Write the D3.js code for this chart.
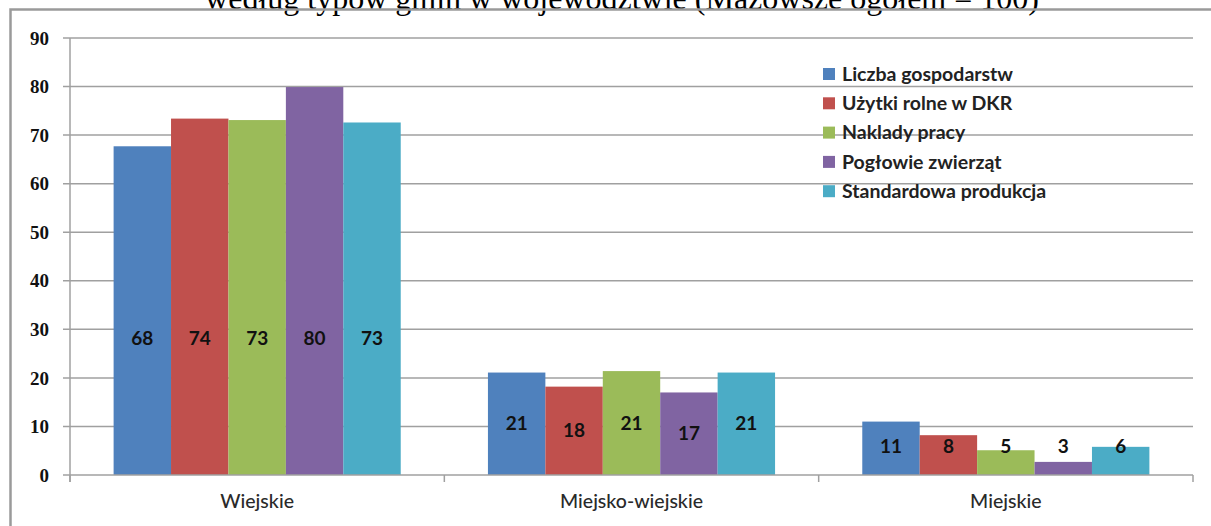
<!DOCTYPE html>
<html>
<head>
<meta charset="utf-8">
<script src="https://cdn.jsdelivr.net/npm/d3@7"></script>
<style>
  html, body { margin: 0; padding: 0; background: #fff; }
  svg { display: block; }
</style>
</head>
<body>
<svg id="chart" width="1211" height="526"></svg>
<script>
// ---- data ----
const categories = ["Wiejskie", "Miejsko-wiejskie", "Miejskie"];
const seriesNames = ["Liczba gospodarstw", "Użytki rolne w DKR", "Naklady pracy", "Pogłowie zwierząt", "Standardowa produkcja"];
const liczbaGospodarstw = [67.7, 21.1, 11.0];
const uzytkiRolne = [73.4, 18.2, 8.2];
const nakladyPracy = [73.1, 21.4, 5.1];
const poglowieZwierzat = [79.9, 17.0, 2.7];
const standardowaProdukcja = [72.6, 21.1, 5.8];
const valueLabels = [
  ["68", "74", "73", "80", "73"],
  ["21", "18", "21", "17", "21"],
  ["11", "8", "5", "3", "6"]
];
const yTicks = [0, 10, 20, 30, 40, 50, 60, 70, 80, 90];
const titleText = "według typów gmin w województwie (Mazowsze ogółem = 100)";

const seriesValues = [liczbaGospodarstw, uzytkiRolne, nakladyPracy, poglowieZwierzat, standardowaProdukcja];
const colors = ["#4F81BD", "#C0504D", "#9BBB59", "#8064A2", "#4BACC6"];

// ---- layout ----
const svg = d3.select("#chart");
const plotLeft = 70, plotRight = 1193, plotTop = 38, plotBottom = 475;

// frame + title
svg.append("text")
  .attr("x", 622).attr("y", 9)
  .attr("text-anchor", "middle")
  .attr("font-family", "Liberation Serif, Times New Roman, serif")
  .attr("font-size", 32)
  .attr("fill", "#000")
  .text(titleText);
svg.append("rect")
  .attr("x", 10.5).attr("y", 9.5)
  .attr("width", 1400).attr("height", 700)
  .attr("fill", "none").attr("stroke", "#9a9a9a").attr("stroke-width", 2.5);

const y = d3.scaleLinear().domain([0, 90]).range([plotBottom, plotTop]);
const x0 = d3.scaleBand().domain(categories).range([plotLeft, plotRight])
  .paddingInner(0.233).paddingOuter(0.1165);
const x1 = d3.scaleBand().domain(seriesNames).range([0, x0.bandwidth()]);
const sep = d3.scaleLinear().domain([0, categories.length]).range([plotLeft, plotRight]);

const gridColor = "#a0a0a0";

// gridlines
svg.append("g").selectAll("line").data(yTicks.filter(t => t > 0)).join("line")
  .attr("x1", plotLeft - 7).attr("x2", plotRight)
  .attr("y1", d => y(d)).attr("y2", d => y(d))
  .attr("stroke", gridColor).attr("stroke-width", 1.5);

// y axis line and ticks
svg.append("line").attr("x1", plotLeft).attr("x2", plotLeft).attr("y1", plotTop).attr("y2", plotBottom + 7)
  .attr("stroke", gridColor).attr("stroke-width", 1.5);
svg.append("line").attr("x1", plotLeft - 7).attr("x2", plotLeft).attr("y1", plotBottom).attr("y2", plotBottom)
  .attr("stroke", gridColor).attr("stroke-width", 1.5);
svg.append("g").selectAll("text").data(yTicks).join("text")
  .attr("x", 49).attr("y", d => y(d))
  .attr("dy", "0.35em")
  .attr("text-anchor", "end")
  .attr("font-family", "Liberation Serif, Times New Roman, serif")
  .attr("font-weight", "bold")
  .attr("font-size", 19)
  .attr("fill", "#111")
  .text(d => d);

// bars
const groups = svg.append("g").selectAll("g").data(categories).join("g")
  .attr("transform", d => `translate(${x0(d)},0)`);
groups.selectAll("rect").data((c, ci) => seriesNames.map((s, si) => ({ s, si, v: seriesValues[si][ci] })))
  .join("rect")
  .attr("x", d => x1(d.s)).attr("width", x1.bandwidth())
  .attr("y", d => y(d.v)).attr("height", d => plotBottom - y(d.v))
  .attr("fill", d => colors[d.si]);

// x axis line and separator ticks
svg.append("line").attr("x1", plotLeft).attr("x2", plotRight).attr("y1", plotBottom).attr("y2", plotBottom)
  .attr("stroke", gridColor).attr("stroke-width", 1.5);
svg.append("g").selectAll("line").data(d3.range(categories.length + 1)).join("line")
  .attr("x1", d => sep(d)).attr("x2", d => sep(d))
  .attr("y1", plotBottom).attr("y2", plotBottom + 7)
  .attr("stroke", gridColor).attr("stroke-width", 1.5);

// data labels (centred in bar, kept within a band near the base)
const labelMin = 6, labelMax = 28.2;
groups.selectAll("text").data((c, ci) => seriesNames.map((s, si) => ({ s, si, v: seriesValues[si][ci], t: valueLabels[ci][si] })))
  .join("text")
  .attr("x", d => x1(d.s) + x1.bandwidth() / 2)
  .attr("y", d => y(Math.max(labelMin, Math.min(labelMax, d.v / 2))))
  .attr("dy", "0.35em")
  .attr("text-anchor", "middle")
  .attr("font-family", "Lato, Open Sans, sans-serif")
  .attr("font-weight", "bold")
  .attr("font-size", 19)
  .attr("fill", "#111")
  .text(d => d.t);

// category labels
svg.append("g").selectAll("text").data(categories).join("text")
  .attr("x", d => x0(d) + x0.bandwidth() / 2)
  .attr("y", 501).attr("dy", "0.35em")
  .attr("text-anchor", "middle")
  .attr("font-family", "Lato, Open Sans, sans-serif")
  .attr("font-weight", 500)
  .attr("font-size", 19.5)
  .attr("fill", "#2a2a2a")
  .text(d => d);

// legend
const legend = svg.append("g").selectAll("g").data(seriesNames).join("g")
  .attr("transform", (d, i) => `translate(823,${74 + i * 29.3})`);
legend.append("rect").attr("x", 0).attr("y", -6).attr("width", 12).attr("height", 12)
  .attr("fill", (d, i) => colors[i]);
legend.append("text").attr("x", 19).attr("y", 0).attr("dy", "0.35em")
  .attr("font-family", "Lato, Open Sans, sans-serif")
  .attr("font-weight", "bold")
  .attr("font-size", 19.5)
  .attr("fill", "#222")
  .text(d => d);
</script>
</body>
</html>
